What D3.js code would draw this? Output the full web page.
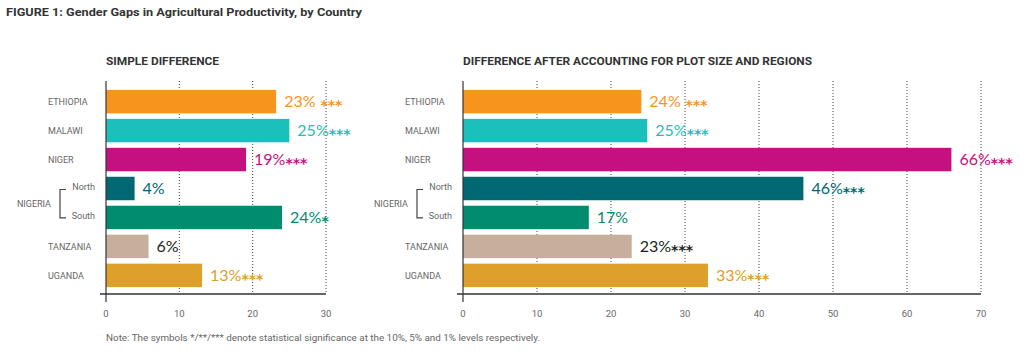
<!DOCTYPE html>
<html>
<head>
<meta charset="utf-8">
<script src="https://cdn.jsdelivr.net/npm/d3@7"></script>
<style>
    body { margin: 0; background: #fff; }
    svg { display: block; }
    .cat { font-family: Roboto, "Noto Sans", sans-serif; font-size: 9px; fill: #666; }
    .tick-label { font-family: Roboto, "Noto Sans", sans-serif; font-size: 9.5px; fill: #666; }
    .val { font-family: Lato, "Open Sans", sans-serif; font-size: 16px; }
    .stars { font-family: "DejaVu Sans", sans-serif; font-size: 14px; font-weight: 700; }
</style>
</head>
<body>
<svg id="chart" width="1024" height="352"></svg>
<script>
/* ---------- Data ---------- */
const rowKeys = ["Ethiopia", "Malawi", "Niger", "North", "South", "Tanzania", "Uganda"];
const rowLabels = ["ETHIOPIA", "MALAWI", "NIGER", "North", "South", "TANZANIA", "UGANDA"];
const rowColors = ["#f7941d", "#1bbfbb", "#c4117f", "#006872", "#008c6e", "#c8ae9c", "#dda02a"];
const labelColors = ["#f7941d", "#1bbfbb", "#c4117f", "#006872", "#008c6e", "#231f20", "#dda02a"];

const simpleValues = [23.2, 25, 19.1, 3.9, 24, 5.8, 13.1];
const simpleText = ["23%", "25%", "19%", "4%", "24%", "6%", "13%"];
const simpleStars = [" ***", "***", "***", "", "*", "", "***"];
const simpleTicks = [0, 10, 20, 30];

const adjustedValues = [24.1, 24.9, 66, 46, 17, 22.8, 33.1];
const adjustedText = ["24%", "25%", "66%", "46%", "17%", "23%", "33%"];
const adjustedStars = [" ***", "***", "***", "***", "", "***", "***"];
const adjustedTicks = [0, 10, 20, 30, 40, 50, 60, 70];

/* ---------- DOM ---------- */
const svg = d3.select("#chart");
const plotTop = 81, plotBase = 294;

svg.append("text")
    .attr("x", 6).attr("y", 16)
    .attr("font-family", "Roboto, sans-serif").attr("font-weight", 700)
    .attr("font-size", 11.5).attr("fill", "#333")
    .attr("textLength", 356).attr("lengthAdjust", "spacingAndGlyphs")
    .text("FIGURE 1: Gender Gaps in Agricultural Productivity, by Country");

svg.append("text")
    .attr("x", 106).attr("y", 340.5)
    .attr("font-family", "Roboto, sans-serif").attr("font-size", 8.5)
    .attr("fill", "#666")
    .attr("textLength", 434).attr("lengthAdjust", "spacingAndGlyphs")
    .text("Note: The symbols */**/*** denote statistical significance at the 10%, 5% and 1% levels respectively.");

const yScale = d3.scaleBand().domain(rowKeys).range([87, 290])
    .paddingInner(0.19).paddingOuter(0.1);

function drawPanel({x0, x1, ticks, values, texts, stars, title, titleWidth}) {
    const g = svg.append("g");
    const xScale = d3.scaleLinear().domain([0, d3.max(ticks)]).range([x0, x1]);
    const labelX = x0 - 58;

    g.append("text")
        .attr("x", x0).attr("y", 65)
        .attr("font-family", "Roboto, sans-serif").attr("font-weight", 700)
        .attr("font-size", 10).attr("fill", "#333")
        .attr("textLength", titleWidth).attr("lengthAdjust", "spacingAndGlyphs")
        .text(title);

    // dotted gridlines
    g.append("g").selectAll("line")
        .data(ticks.filter(t => t > 0))
        .join("line")
        .attr("x1", d => xScale(d)).attr("x2", d => xScale(d))
        .attr("y1", plotTop).attr("y2", plotBase)
        .attr("stroke", "#444").attr("stroke-width", 1)
        .attr("stroke-dasharray", "1,2");

    // bars
    g.append("g").selectAll("rect")
        .data(rowKeys)
        .join("rect")
        .attr("x", xScale(0))
        .attr("y", d => yScale(d))
        .attr("width", (d, i) => xScale(values[i]) - xScale(0))
        .attr("height", yScale.bandwidth())
        .attr("fill", (d, i) => rowColors[i]);

    // axes
    g.append("line")
        .attr("x1", x0 - 6).attr("x2", x1)
        .attr("y1", plotBase).attr("y2", plotBase)
        .attr("stroke", "#333").attr("stroke-width", 1.5);
    g.append("line")
        .attr("x1", x0).attr("x2", x0)
        .attr("y1", plotTop).attr("y2", plotBase + 8)
        .attr("stroke", "#333").attr("stroke-width", 1.2);

    g.append("g").selectAll("text")
        .data(ticks)
        .join("text")
        .attr("class", "tick-label")
        .attr("x", d => xScale(d)).attr("y", 317)
        .attr("text-anchor", "middle")
        .text(d => d);

    // category labels
    const mid = d => yScale(d) + yScale.bandwidth() / 2;
    g.append("g").selectAll("text")
        .data(rowKeys.filter(k => k !== "North" && k !== "South"))
        .join("text")
        .attr("class", "cat")
        .attr("x", labelX).attr("y", d => mid(d) + 3.5)
        .text(d => rowLabels[rowKeys.indexOf(d)]);

    g.append("g").selectAll("text")
        .data(["North", "South"])
        .join("text")
        .attr("class", "cat")
        .attr("x", x0 - 11).attr("y", d => mid(d) + 1.5)
        .attr("text-anchor", "end")
        .text(d => rowLabels[rowKeys.indexOf(d)]);

    // Nigeria bracket
    const bx = x0 - 46, by0 = mid("North") + 1, by1 = mid("South") + 0.5;
    g.append("path")
        .attr("d", `M${bx + 6},${by0}H${bx}V${by1}H${bx + 6}`)
        .attr("fill", "none").attr("stroke", "#444").attr("stroke-width", 1.2);
    g.append("text")
        .attr("class", "cat")
        .attr("x", bx - 9).attr("y", (by0 + by1) / 2 + 3.5)
        .attr("text-anchor", "end")
        .text("NIGERIA");

    // value labels
    const vals = g.append("g").selectAll("text")
        .data(rowKeys)
        .join("text")
        .attr("class", "val")
        .attr("x", (d, i) => xScale(values[i]) + 8)
        .attr("y", d => mid(d) + 5.5)
        .attr("fill", (d, i) => labelColors[i]);
    vals.append("tspan").text((d, i) => texts[i]);
    vals.append("tspan")
        .attr("class", "stars")
        .attr("dy", 3)
        .text((d, i) => stars[i]);
}

drawPanel({
    x0: 106, x1: 326, ticks: simpleTicks,
    values: simpleValues, texts: simpleText, stars: simpleStars,
    title: "SIMPLE DIFFERENCE", titleWidth: 113
});

drawPanel({
    x0: 463, x1: 981, ticks: adjustedTicks,
    values: adjustedValues, texts: adjustedText, stars: adjustedStars,
    title: "DIFFERENCE AFTER ACCOUNTING FOR PLOT SIZE AND REGIONS", titleWidth: 349
});
</script>
</body>
</html>
